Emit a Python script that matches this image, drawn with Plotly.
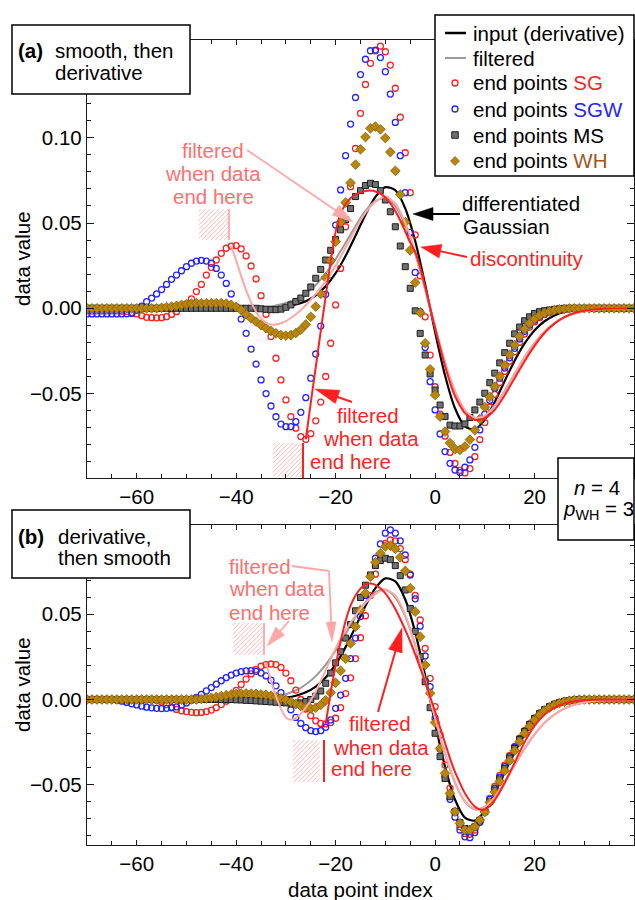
import math
import plotly.graph_objects as go

FONT = "Liberation Sans, Arial, sans-serif"
FS = 20.5

# ---------------- data ----------------
X_IDX = list(range(-70, 41))

# panel (a): smooth, then derivative -- end-point values
A_SG = [-0.0015, -0.0015, -0.0015, -0.0015, -0.0015, -0.0015, -0.0015, -0.0016, -0.0018, -0.0025,
        -0.0033, -0.0043, -0.0053, -0.0055, -0.0056, -0.0055, -0.0049, -0.0036, -0.002, 0.0004,
        0.0025, 0.0055, 0.0098, 0.014, 0.0195, 0.024, 0.0283, 0.0322, 0.0352, 0.0365,
        0.0367, 0.0348, 0.0307, 0.0248, 0.0172, 0.0074, -0.0035, -0.0166, -0.0293, -0.042,
        -0.0537, -0.0635, -0.0703, -0.0752, -0.0768, -0.0735, -0.066, -0.055, -0.040, -0.0205,
        0.002, 0.0234, 0.0478, 0.0713, 0.0937, 0.1143, 0.1312, 0.1436, 0.151, 0.1537,
        0.1504, 0.1426, 0.129, 0.112, 0.0912, 0.0678, 0.043, 0.019, -0.005, -0.0274,
        -0.046, -0.062, -0.075, -0.0845, -0.091, -0.095, -0.0965, -0.094, -0.087, -0.077,
        -0.067, -0.058, -0.0505, -0.0435, -0.037, -0.031, -0.0255, -0.020, -0.015, -0.011,
        -0.008, -0.0055, -0.0037, -0.0024, -0.0015, -0.0009, -0.0005, -0.0002, 0.0, 0.0,
        0.0, 0.0, 0.0, 0.0, 0.0, 0.0, 0.0, 0.0, 0.0, 0.0, 0.0]
A_SGW = [-0.0033, -0.0033, -0.0033, -0.0033, -0.0033, -0.0033, -0.0033, -0.0033, -0.0032, -0.003,
         -0.0012, 0.0013, 0.0039, 0.006, 0.0084, 0.011, 0.014, 0.017, 0.0195, 0.022,
         0.0244, 0.0264, 0.0277, 0.0281, 0.0277, 0.0264, 0.0234, 0.0195, 0.0146, 0.0084,
         0.001, -0.0063, -0.0147, -0.0239, -0.0327, -0.042, -0.050, -0.0573, -0.0636, -0.0679,
         -0.0694, -0.0694, -0.0665, -0.061, -0.0524, -0.041, -0.0268, -0.0104, 0.0082, 0.028,
         0.0488, 0.0694, 0.0895, 0.108, 0.1236, 0.137, 0.146, 0.151, 0.1514, 0.147,
         0.1387, 0.1256, 0.109, 0.0895, 0.0678, 0.0445, 0.021, -0.002, -0.023, -0.043,
         -0.0596, -0.0737, -0.084, -0.0909, -0.0948, -0.0963, -0.0932, -0.0889, -0.0815, -0.0713,
         -0.062, -0.054, -0.047, -0.041, -0.035, -0.029, -0.0235, -0.018, -0.0135, -0.0098,
         -0.007, -0.0048, -0.0032, -0.002, -0.0012, -0.0006, -0.0003, 0.0, 0.0, 0.0,
         0.0, 0.0, 0.0, 0.0, 0.0, 0.0, 0.0, 0.0, 0.0, 0.0, 0.0]
A_MS = [0.0, 0.0, 0.0, 0.0, 0.0, 0.0, 0.0, 0.0, 0.0, 0.0,
        0.0, 0.0, 0.0, 0.0, 0.0, 0.0, 0.0, 0.0, 0.0, 0.0,
        0.0, 0.0, 0.0, 0.0, 0.0, 0.0, 0.0, 0.0, 0.0, 0.0,
        0.0, 0.0, 0.0, 0.0, 0.0, -0.0003, -0.0006, -0.0008, -0.0008, -0.0005,
        0.0006, 0.002, 0.004, 0.006, 0.0088, 0.0125, 0.0176, 0.0228, 0.0283, 0.034,
        0.0404, 0.046, 0.052, 0.0585, 0.0655, 0.069, 0.072, 0.0733, 0.0726, 0.069,
        0.0635, 0.0566, 0.0478, 0.0365, 0.0244, 0.0117, -0.0015, -0.0147, -0.0274, -0.0385,
        -0.0479, -0.0567, -0.0635, -0.0685, -0.069, -0.069, -0.0678, -0.064, -0.0596, -0.055,
        -0.0498, -0.0436, -0.038, -0.032, -0.026, -0.0205, -0.015, -0.011, -0.0073, -0.005,
        -0.003, -0.002, -0.0014, -0.001, -0.0006, -0.0003, 0.0, 0.0, 0.0, 0.0,
        0.0, 0.0, 0.0, 0.0, 0.0, 0.0, 0.0, 0.0, 0.0, 0.0, 0.0]
A_WH = [0.0, 0.0, 0.0, 0.0, 0.0, 0.0, 0.0, 0.0, 0.0, 0.0,
        0.0, 0.0, 0.0, 0.0, 0.0, 0.0003, 0.0007, 0.001, 0.0015, 0.002,
        0.0025, 0.0028, 0.003, 0.003, 0.003, 0.003, 0.003, 0.003, 0.0028, 0.002,
        0.0008, -0.001, -0.0035, -0.0059, -0.0078, -0.0098, -0.0117, -0.0133, -0.0147, -0.0157,
        -0.016, -0.0157, -0.0145, -0.0125, -0.0095, -0.005, 0.001, 0.0084, 0.018, 0.028,
        0.039, 0.0505, 0.062, 0.0735, 0.0842, 0.0932, 0.1004, 0.1055, 0.1065, 0.1049,
        0.0998, 0.0916, 0.0806, 0.0667, 0.0505, 0.034, 0.0151, -0.0025, -0.0205, -0.0358,
        -0.0508, -0.0635, -0.0723, -0.079, -0.0825, -0.083, -0.081, -0.077, -0.0715, -0.065,
        -0.058, -0.052, -0.046, -0.040, -0.0335, -0.0272, -0.0215, -0.0165, -0.0122, -0.0088,
        -0.0062, -0.0042, -0.0028, -0.0018, -0.0011, -0.0006, -0.0003, -0.0001, 0.0, 0.0,
        0.0, 0.0, 0.0, 0.0, 0.0, 0.0, 0.0, 0.0, 0.0, 0.0, 0.0]

# panel (b): derivative, then smooth -- end-point values
B_SG = [0.0, 0.0, 0.0, 0.0, 0.0, 0.0, 0.0, 0.0, 0.0, 0.0,
        0.0, 0.0, 0.0, 0.0, -0.0005, -0.0015, -0.003, -0.0045, -0.0058, -0.0066,
        -0.0071, -0.0075, -0.0077, -0.0076, -0.0071, -0.0062, -0.0048, -0.003, -0.001, 0.002,
        0.0053, 0.0088, 0.012, 0.015, 0.0176, 0.0195, 0.0205, 0.0208, 0.0205, 0.0188,
        0.0155, 0.011, 0.0055, 0.0, -0.0055, -0.0095, -0.0125, -0.014, -0.0143, -0.0135,
        -0.011, -0.0048, 0.0035, 0.0127, 0.024, 0.0362, 0.0491, 0.0609, 0.0735, 0.0851,
        0.0915, 0.0935, 0.093, 0.0885, 0.082, 0.0735, 0.061, 0.0466, 0.030, 0.0124,
        -0.0042, -0.0208, -0.0384, -0.052, -0.0654, -0.0746, -0.0785, -0.079, -0.0765, -0.0717,
        -0.065, -0.058, -0.051, -0.0445, -0.0385, -0.0328, -0.0275, -0.0226, -0.0182, -0.0143,
        -0.011, -0.008, -0.0058, -0.004, -0.0027, -0.0017, -0.001, -0.0005, -0.0002, 0.0,
        0.0, 0.0, 0.0, 0.0, 0.0, 0.0, 0.0, 0.0, 0.0, 0.0, 0.0]
B_SGW = [0.0, 0.0, 0.0, 0.0, 0.0, 0.0, -0.0005, -0.001, -0.0017, -0.0025,
         -0.0032, -0.0039, -0.0045, -0.0049, -0.0052, -0.0053, -0.0052, -0.0049, -0.0043, -0.0033,
         -0.002, -0.0005, 0.0012, 0.003, 0.005, 0.007, 0.009, 0.011, 0.0128, 0.0143,
         0.0155, 0.0163, 0.0168, 0.0169, 0.0165, 0.0155, 0.0138, 0.0113, 0.008, 0.004,
         -0.001, -0.006, -0.0105, -0.014, -0.0165, -0.0183, -0.0188, -0.0183, -0.0163, -0.012,
         -0.0052, 0.0026, 0.0124, 0.024, 0.036, 0.0486, 0.061, 0.0725, 0.0828, 0.0912,
         0.0975, 0.0994, 0.0975, 0.093, 0.0847, 0.073, 0.059, 0.043, 0.0255, 0.0075,
         -0.011, -0.029, -0.045, -0.0585, -0.069, -0.0765, -0.0805, -0.081, -0.078, -0.072,
         -0.065, -0.0585, -0.052, -0.0455, -0.0393, -0.0335, -0.028, -0.023, -0.0185, -0.0145,
         -0.011, -0.008, -0.0058, -0.004, -0.0027, -0.0017, -0.001, -0.0005, -0.0002, 0.0,
         0.0, 0.0, 0.0, 0.0, 0.0, 0.0, 0.0, 0.0, 0.0, 0.0, 0.0]
B_MS = [0.0, 0.0, 0.0, 0.0, 0.0, 0.0, 0.0, 0.0, 0.0, 0.0,
        0.0, 0.0, 0.0, 0.0, 0.0, 0.0, 0.0, 0.0, 0.0, 0.0,
        0.0, 0.0, 0.0, 0.0, 0.0, 0.0, 0.0, 0.0, 0.0, 0.0,
        -0.0002, -0.0003, -0.0005, -0.0006, -0.0008, -0.001, -0.0012, -0.0014, -0.0016, -0.0018,
        -0.002, -0.0022, -0.0022, -0.002, -0.0012, 0.0, 0.002, 0.005, 0.0095, 0.0155,
        0.0215, 0.028, 0.036, 0.044, 0.052, 0.0598, 0.067, 0.073, 0.0785, 0.0815,
        0.0828, 0.082, 0.0785, 0.0726, 0.0642, 0.0534, 0.040, 0.0251, 0.0104, -0.0048,
        -0.0198, -0.0335, -0.0463, -0.057, -0.0658, -0.0722, -0.0756, -0.076, -0.0746, -0.0707,
        -0.0658, -0.0598, -0.053, -0.0465, -0.0403, -0.0343, -0.0287, -0.0235, -0.0188, -0.0147,
        -0.0112, -0.0083, -0.006, -0.0042, -0.0028, -0.0018, -0.0011, -0.0006, -0.0003, -0.0001,
        0.0, 0.0, 0.0, 0.0, 0.0, 0.0, 0.0, 0.0, 0.0, 0.0, 0.0]
B_WH = [0.0, 0.0, 0.0, 0.0, 0.0, 0.0, 0.0, 0.0, 0.0, 0.0,
        0.0, 0.0, 0.0, 0.0, 0.0, 0.0, 0.0, 0.0, 0.0, 0.0,
        0.0, 0.0, 0.0, 0.0003, 0.0006, 0.001, 0.0015, 0.002, 0.0025, 0.003,
        0.0033, 0.0035, 0.0036, 0.0035, 0.0033, 0.003, 0.0027, 0.0022, 0.0015, 0.0007,
        -0.0003, -0.0015, -0.0027, -0.0038, -0.0047, -0.0052, -0.0048, -0.0032, -0.0005, 0.004,
        0.0098, 0.0168, 0.024, 0.0329, 0.0427, 0.0525, 0.0623, 0.072, 0.0805, 0.0857,
        0.0897, 0.0902, 0.0883, 0.0834, 0.0754, 0.0652, 0.0515, 0.0368, 0.0202, 0.0036,
        -0.0135, -0.0287, -0.0433, -0.055, -0.0658, -0.0726, -0.0765, -0.0765, -0.0746, -0.0707,
        -0.066, -0.0603, -0.0543, -0.048, -0.0418, -0.0358, -0.03, -0.0247, -0.0198, -0.0156,
        -0.012, -0.009, -0.0066, -0.0047, -0.0032, -0.0021, -0.0013, -0.0007, -0.0003, -0.0001,
        0.0, 0.0, 0.0, 0.0, 0.0, 0.0, 0.0, 0.0, 0.0, 0.0, 0.0]

# continuous curves (shared by both panels)
LINE_X = [-70, -60, -50, -40, -38, -36, -34, -32, -30, -28, -26, -24, -22, -20, -18, -16, -14, -12,
          -10, -8, -6, -4, -2, 0, 2, 4, 6, 8, 10, 12, 14, 16, 18, 20, 22, 24, 26, 28, 30, 32,
          34, 36, 40]
INPUT_Y = [0.0, 0.0, 0.0, 0.0, 0.0, 0.0001, 0.0002, 0.0005, 0.0011, 0.0022, 0.0042, 0.0076,
           0.0129, 0.0206, 0.0307, 0.0426, 0.0549, 0.0653, 0.0710, 0.0692, 0.0586, 0.0394,
           0.0139, -0.0139, -0.0394, -0.0586, -0.0692, -0.0710, -0.0653, -0.0549, -0.0426,
           -0.0307, -0.0206, -0.0129, -0.0076, -0.0042, -0.0022, -0.0011, -0.0005, -0.0002,
           -0.0001, 0.0, 0.0]
FILT_Y = [0.0, 0.0, 0.0, 0.0001, 0.0002, 0.0004, 0.0009, 0.0017, 0.0031, 0.0053, 0.0088,
          0.0137, 0.0204, 0.0288, 0.0384, 0.0483, 0.0571, 0.0630, 0.0643, 0.0598, 0.0487,
          0.0319, 0.0111, -0.0111, -0.0319, -0.0487, -0.0598, -0.0643, -0.0630, -0.0571,
          -0.0483, -0.0384, -0.0288, -0.0204, -0.0137, -0.0088, -0.0053, -0.0031, -0.0017,
          -0.0009, -0.0004, -0.0002, 0.0]

# filtered when data end at x = -41 (pink) and x = -26 (red), panel (a)
A_PINK_X = [-41, -40, -39, -38, -37, -36, -35, -34, -33, -32, -31, -30, -29, -28, -27, -26, -25,
            -24, -23, -22, -20, -18, -16, -14, -12, -10, -8, -6, -4, -2, 0, 2, 4, 6, 8, 10, 12,
            14, 16, 18, 20, 22, 24, 26, 28, 30, 32, 34, 36, 40]
A_PINK_Y = [0.0365, 0.028, 0.019, 0.0105, 0.0035, -0.002, -0.006, -0.0085, -0.0095, -0.0095,
            -0.0088, -0.0075, -0.0057, -0.0035, -0.001, 0.0018, 0.005, 0.0085, 0.012, 0.016,
            0.025, 0.0355, 0.0465, 0.056, 0.0625, 0.0655, 0.0615, 0.050, 0.0328, 0.0115,
            -0.011, -0.0319, -0.0487, -0.0598, -0.0643, -0.0630, -0.0571, -0.0483, -0.0384,
            -0.0288, -0.0204, -0.0137, -0.0088, -0.0053, -0.0031, -0.0017, -0.0009, -0.0004,
            -0.0002, 0.0]
A_RED_X = [-26, -25, -24, -23, -22, -21, -20, -19, -18, -17, -16, -15, -14, -13, -12, -11, -10,
           -9, -8, -7, -6, -5, -4, -3, -2, 0, 2, 4, 6, 8, 10, 12, 14, 16, 18, 20, 22, 24, 26,
           28, 30, 32, 34, 36, 40]
A_RED_Y = [-0.0768, -0.0555, -0.0345, -0.0135, 0.007, 0.0275, 0.0448, 0.0555, 0.061, 0.0645,
           0.0668, 0.068, 0.0688, 0.069, 0.0685, 0.0672, 0.065, 0.0615, 0.057, 0.0515, 0.045,
           0.0385, 0.033, 0.024, 0.0125, -0.0115, -0.034, -0.0515, -0.0615, -0.0655, -0.0645,
           -0.0595, -0.051, -0.041, -0.031, -0.022, -0.0145, -0.009, -0.0052, -0.0028, -0.0014,
           -0.0007, -0.0003, -0.0001, 0.0]

# filtered when data end at x = -34 (pink) and x = -22 (red), panel (b)
B_PINK_X = [-34, -33, -32, -31, -30, -29, -28, -27, -26, -25, -24, -23, -22, -21, -20, -19, -18,
            -16, -14, -12, -10, -8, -6, -4, -2, 0, 2, 4, 6, 8, 10, 12, 14, 16, 18, 20, 22, 24,
            26, 28, 30, 32, 34, 36, 40]
B_PINK_Y = [0.0212, 0.011, 0.002, -0.0055, -0.0105, -0.0118, -0.0108, -0.0083, -0.0048, -0.0005,
            0.0048, 0.0108, 0.0172, 0.0238, 0.030, 0.0355, 0.0405, 0.0492, 0.0565, 0.0618,
            0.0645, 0.061, 0.0495, 0.0322, 0.0112, -0.011, -0.0319, -0.0487, -0.0598, -0.0643,
            -0.0630, -0.0571, -0.0483, -0.0384, -0.0288, -0.0204, -0.0137, -0.0088, -0.0053,
            -0.0031, -0.0017, -0.0009, -0.0004, -0.0002, 0.0]
B_RED_X = [-22, -21, -20, -19, -18, -17, -16, -15, -14, -13, -12, -11, -10, -9, -8, -7, -6, -5,
           -4, -3, -2, -1, 0, 1, 2, 3, 4, 5, 6, 7, 8, 9, 10, 11, 12, 14, 16, 18, 20, 22, 24, 26,
           28, 30, 32, 40]
B_RED_Y = [-0.0143, 0.004, 0.020, 0.034, 0.046, 0.055, 0.061, 0.065, 0.0675, 0.068, 0.0672,
           0.0652, 0.0622, 0.058, 0.053, 0.0472, 0.0408, 0.034, 0.0265, 0.0185, 0.0102, 0.0015,
           -0.007, -0.0165, -0.0255, -0.0345, -0.0425, -0.049, -0.055, -0.0595, -0.0628,
           -0.0645, -0.0645, -0.0625, -0.059, -0.049, -0.037, -0.025, -0.0155, -0.0088,
           -0.0047, -0.0023, -0.001, -0.0004, -0.0001, 0.0]

X_TICKS = [-60, -40, -20, 0, 20]
A_Y_TICKS = [-0.05, 0.0, 0.05, 0.10]
B_Y_TICKS = [-0.05, 0.0, 0.05]

# ---------------- styles ----------------
RED = "#ff1f1f"
BLUE = "#2424ff"
PINK_LINE = "#ffa6a6"
PINK_TXT = "#ff6f6f"
HATCH = "#ffb4b4"
GOLD = "#b8860b"
WH_TXT = "#a0561c"

W, H = 635, 900
ML, MR, MT, MB = 87, 1, 40, 55
PW = W - ML - MR
PH = H - MT - MB


def PX(px):
    return (px - ML) / PW


def PY(py):
    return (H - MB - py) / PH


fig = go.Figure()


def add_panel(xa, ya, sg, sgw, ms, wh, pink_x, pink_y, red_x, red_y):
    fig.add_trace(go.Scatter(x=LINE_X, y=INPUT_Y, mode="lines", xaxis=xa, yaxis=ya,
                             line=dict(color="black", width=2.2, shape="spline", smoothing=0.8)))
    fig.add_trace(go.Scatter(x=LINE_X, y=FILT_Y, mode="lines", xaxis=xa, yaxis=ya,
                             line=dict(color="#9a9a9a", width=2, shape="spline", smoothing=0.8)))
    fig.add_trace(go.Scatter(x=X_IDX, y=sg, mode="markers", xaxis=xa, yaxis=ya,
                             marker=dict(symbol="circle-open", size=6, color=RED,
                                         line=dict(width=1.3, color=RED))))
    fig.add_trace(go.Scatter(x=X_IDX, y=sgw, mode="markers", xaxis=xa, yaxis=ya,
                             marker=dict(symbol="circle-open", size=6, color=BLUE,
                                         line=dict(width=1.3, color=BLUE))))
    fig.add_trace(go.Scatter(x=X_IDX, y=ms, mode="markers", xaxis=xa, yaxis=ya,
                             marker=dict(symbol="square", size=6, color="#707070",
                                         line=dict(width=1, color="#1e1e1e"))))
    fig.add_trace(go.Scatter(x=X_IDX, y=wh, mode="markers", xaxis=xa, yaxis=ya,
                             marker=dict(symbol="diamond", size=7.5, color=GOLD,
                                         line=dict(width=0.7, color="#7d5a06"))))
    fig.add_trace(go.Scatter(x=pink_x, y=pink_y, mode="lines", xaxis=xa, yaxis=ya,
                             line=dict(color=PINK_LINE, width=2, shape="spline", smoothing=0.6)))
    fig.add_trace(go.Scatter(x=red_x, y=red_y, mode="lines", xaxis=xa, yaxis=ya,
                             line=dict(color=RED, width=2, shape="spline", smoothing=0.6)))


add_panel("x", "y", A_SG, A_SGW, A_MS, A_WH, A_PINK_X, A_PINK_Y, A_RED_X, A_RED_Y)
add_panel("x2", "y2", B_SG, B_SGW, B_MS, B_WH, B_PINK_X, B_PINK_Y, B_RED_X, B_RED_Y)

axis_common = dict(showline=True, linecolor="#1a1a1a", linewidth=1.3, mirror="ticks",
                   showgrid=False, zeroline=False, tickfont=dict(size=FS, color="black"),
                   tickcolor="#1a1a1a", automargin=False)

xa = dict(axis_common, range=[-70, 40], tickmode="array", tickvals=X_TICKS, ticks="inside",
          ticklen=5, tickwidth=1.3,
          minor=dict(tickmode="linear", tick0=0, dtick=5, ticks="inside", ticklen=3.5,
                     tickwidth=1, tickcolor="#1a1a1a"))
ya = dict(axis_common, tickmode="array", tickformat=".2f", ticks="inside",
          ticklen=7, tickwidth=1.3,
          minor=dict(tickmode="linear", tick0=0, dtick=0.01, ticks="inside", ticklen=4,
                     tickwidth=1, tickcolor="#1a1a1a"))

fig.update_layout(
    width=W, height=H,
    margin=dict(l=ML, r=MR, t=MT, b=MB, autoexpand=False),
    paper_bgcolor="white", plot_bgcolor="white",
    showlegend=False,
    font=dict(family=FONT, size=FS, color="black"),
    xaxis=dict(xa, domain=[0, 1], anchor="y"),
    xaxis2=dict(xa, domain=[0, 1], anchor="y2"),
    yaxis=dict(ya, domain=[PY(478), 1], anchor="x", range=[-0.0995, 0.1573],
               tickvals=A_Y_TICKS),
    yaxis2=dict(ya, domain=[0, PY(525)], anchor="x2", range=[-0.0853, 0.1023],
                tickvals=B_Y_TICKS),
)

shapes = []
annos = []


def rect(x0, y0, x1, y1, lw=1.5):
    shapes.append(dict(type="rect", xref="paper", yref="paper", x0=PX(x0), x1=PX(x1),
                       y0=PY(y1), y1=PY(y0), fillcolor="white",
                       line=dict(color="black", width=lw), layer="above"))


def seg(x0, y0, x1, y1, color, w):
    shapes.append(dict(type="line", xref="paper", yref="paper", x0=PX(x0), y0=PY(y0),
                       x1=PX(x1), y1=PY(y1), line=dict(color=color, width=w), layer="above"))


def hatch(x0, y0, x1, y1, color, step=4.5):
    parts = []
    s = x0 + y0 + step / 2
    while s < x1 + y1:
        xa_ = max(x0, s - y1)
        xb_ = min(x1, s - y0)
        if xb_ > xa_:
            parts.append(f"M{PX(xa_):.5f},{PY(s - xa_):.5f} L{PX(xb_):.5f},{PY(s - xb_):.5f}")
        s += step
    shapes.append(dict(type="path", xref="paper", yref="paper", path=" ".join(parts),
                       line=dict(color=color, width=1), layer="above"))


def arrow(tail, tip, color, lw=2, hl=20, hw=12):
    (x0, y0), (x1, y1) = tail, tip
    dx, dy = x1 - x0, y1 - y0
    L = math.hypot(dx, dy)
    ux, uy = dx / L, dy / L
    bx, by = x1 - ux * hl, y1 - uy * hl
    nx, ny = -uy, ux
    seg(x0, y0, bx + ux * 3, by + uy * 3, color, lw)
    p = (f"M{PX(x1):.5f},{PY(y1):.5f} L{PX(bx + nx * hw / 2):.5f},{PY(by + ny * hw / 2):.5f} "
         f"L{PX(bx - nx * hw / 2):.5f},{PY(by - ny * hw / 2):.5f} Z")
    shapes.append(dict(type="path", xref="paper", yref="paper", path=p, fillcolor=color,
                       line=dict(color=color, width=0.5), layer="above"))


def txt(x, y, s, color="black", anchor="left", size=FS, angle=0):
    annos.append(dict(xref="paper", yref="paper", x=PX(x), y=PY(y), text=s, showarrow=False,
                      xanchor=anchor, yanchor="middle", borderpad=0, textangle=angle,
                      font=dict(size=size, color=color, family=FONT)))


# ---- axis titles ----
txt(22, 259, "data value", anchor="center", angle=-90)
txt(22, 685, "data value", anchor="center", angle=-90)
txt(361, 889, "data point index", anchor="center")

# ---- panel (a) annotations ----
txt(213, 150, "filtered", PINK_TXT, "center")
txt(213, 173, "when data", PINK_TXT, "center")
txt(213, 196, "end here", PINK_TXT, "center")
arrow((247, 150), (353, 222), PINK_LINE, lw=1.8, hl=21, hw=12)
hatch(199, 209, 229, 240, HATCH)
seg(229, 209, 229, 240, PINK_LINE, 1.8)
hatch(273, 443, 302, 477, HATCH)
seg(303, 443, 303, 478, RED, 2)
txt(336, 415, "filtered", RED)
txt(322, 438, "when data", RED)
txt(309, 462, "end here", RED)
arrow((352, 402), (315, 389), RED, lw=2, hl=24, hw=14)
txt(461, 203, "differentiated", "black")
txt(462, 226, "Gaussian", "black")
arrow((460, 214), (413, 214), "black", lw=2, hl=20, hw=13)
txt(469, 258, "discontinuity", RED)
arrow((467, 257), (421, 247), RED, lw=2, hl=20, hw=14)

# ---- panel (b) annotations ----
txt(228, 566, "filtered", PINK_TXT)
txt(228, 588, "when data", PINK_TXT)
txt(228, 612, "end here", PINK_TXT)
arrow((289, 621), (267, 646), PINK_LINE, lw=1.8, hl=20, hw=12)
hatch(233, 623, 263, 655, HATCH)
seg(264, 623, 264, 655, PINK_LINE, 1.8)
seg(292, 566, 329, 571, PINK_LINE, 1.8)
arrow((329, 571), (332, 642), PINK_LINE, lw=1.8, hl=20, hw=10)
hatch(293, 740, 320, 782, HATCH)
seg(324, 740, 324, 782, RED, 2)
txt(348, 723, "filtered", RED)
txt(332, 747, "when data", RED)
txt(330, 768, "end here", RED)
arrow((378, 712), (402, 628), RED, lw=2, hl=24, hw=14)

# ---- panel label boxes ----
rect(12, 25, 190, 94)
txt(17, 50, "<b>(a)</b>")
txt(54, 50, "smooth, then")
txt(54, 72, "derivative")
rect(12, 510, 190, 578)
txt(17, 536, "<b>(b)</b>")
txt(57, 536, "derivative,")
txt(57, 557, "then smooth")

# ---- parameters box ----
rect(558, 458, 634, 540)
txt(597, 487, "<i>n</i> = 4", anchor="center")
txt(598, 510, "<i>p</i><sub>WH</sub> = 3", anchor="center")

# ---- legend ----
rect(435, 15, 634, 176)
seg(445, 33, 466, 33, "black", 2.5)
seg(445, 58, 466, 58, "#9a9a9a", 2)


def sample(kind, cx, cy, d, line_color, fill, lw):
    if kind == "circle":
        shapes.append(dict(type="circle", xref="paper", yref="paper", xsizemode="pixel",
                           ysizemode="pixel", xanchor=PX(cx), yanchor=PY(cy),
                           x0=-d / 2, x1=d / 2, y0=-d / 2, y1=d / 2, fillcolor=fill,
                           line=dict(color=line_color, width=lw), layer="above"))
    elif kind == "square":
        shapes.append(dict(type="rect", xref="paper", yref="paper", xsizemode="pixel",
                           ysizemode="pixel", xanchor=PX(cx), yanchor=PY(cy),
                           x0=-d / 2, x1=d / 2, y0=-d / 2, y1=d / 2, fillcolor=fill,
                           line=dict(color=line_color, width=lw), layer="above"))
    else:
        r = d / 2
        shapes.append(dict(type="path", xref="paper", yref="paper", xsizemode="pixel",
                           ysizemode="pixel", xanchor=PX(cx), yanchor=PY(cy),
                           path=f"M0,{r} L{r},0 L0,{-r} L{-r},0 Z", fillcolor=fill,
                           line=dict(color=line_color, width=lw), layer="above"))


sample("circle", 455, 83, 6, RED, "white", 1.3)
sample("circle", 455, 109, 6, BLUE, "white", 1.3)
sample("square", 455, 135, 6.5, "#1e1e1e", "#707070", 1)
sample("diamond", 455, 161, 9, "#7d5a06", GOLD, 0.7)
txt(472, 33, "input (derivative)")
txt(472, 58, "filtered")
txt(472, 83, f"end points <span style='color:{RED}'>SG</span>")
txt(472, 109, f"end points <span style='color:{BLUE}'>SGW</span>")
txt(472, 135, "end points MS")
txt(472, 161, f"end points <span style='color:{WH_TXT}'>WH</span>")

fig.update_layout(shapes=shapes, annotations=annos)
fig.write_html("out.html", config={"displayModeBar": False},
               post_script="document.body.style.margin='0';document.body.style.overflow='hidden';")
